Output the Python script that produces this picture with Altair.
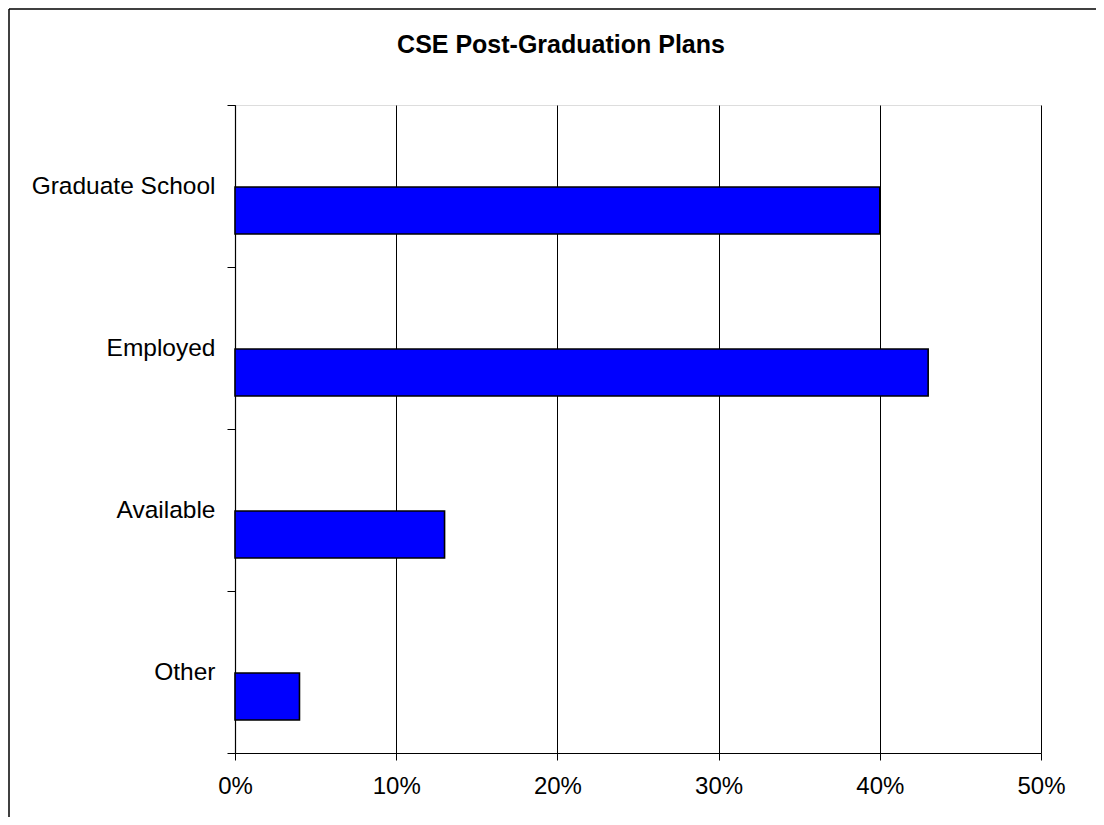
import altair as alt
import pandas as pd

title_text = "CSE Post-Graduation Plans"
categories = ["Graduate School", "Employed", "Available", "Other"]
shares = [0.40, 0.43, 0.13, 0.04]
x_ticks = [0.0, 0.1, 0.2, 0.3, 0.4, 0.5]

df = pd.DataFrame({"plan": categories, "share": shares})

FONT = "Liberation Sans"

bars = alt.Chart(df).mark_bar(
    color="#0000FF", stroke="black", strokeWidth=1.6, size=47, yOffset=24.5
).encode(
    x=alt.X(
        "share:Q",
        scale=alt.Scale(domain=[0, 0.5], nice=False),
        axis=alt.Axis(
            values=x_ticks, format=".0%", title=None, grid=True,
            gridColor="#000000", gridWidth=1, domainColor="#000000",
            domainWidth=1.2, tickColor="#000000", tickSize=7,
            labelFont=FONT, labelFontSize=24, labelColor="#000000",
            labelPadding=14, labelFlush=False,
        ),
    ),
    y=alt.Y(
        "plan:N",
        sort=categories,
        scale=alt.Scale(paddingInner=0, paddingOuter=0),
        axis=alt.Axis(
            title=None, tickBand="extent", grid=False, domainColor="#000000",
            domainWidth=1.2, tickColor="#000000", tickSize=8,
            labelFont=FONT, labelFontSize=24.5, labelColor="#000000",
            labelPadding=12, labelAlign="right", labelLimit=400,
        ),
    ),
)

frame_left = alt.Chart(alt.Data(values=[{}])).mark_rule(
    color="#000000", strokeWidth=1.5
).encode(x=alt.value(-226), y=alt.value(-96), y2=alt.value(760))

frame_top = alt.Chart(alt.Data(values=[{}])).mark_rule(
    color="#000000", strokeWidth=1.5
).encode(x=alt.value(-226), x2=alt.value(900), y=alt.value(-96))

title = alt.Chart(alt.Data(values=[{}])).mark_text(
    font=FONT, fontSize=25, fontWeight="bold", color="#000000",
    align="center", baseline="alphabetic",
).encode(x=alt.value(326), y=alt.value(-52), text=alt.value(title_text))

chart = alt.layer(bars, frame_left, frame_top, title).properties(
    width=806,
    height=648,
    autosize=alt.AutoSizeParams(type="none"),
    padding={"left": 227, "top": 97, "right": 55, "bottom": 64},
).configure_view(stroke="#808080", strokeWidth=1.2).configure(background="white")

chart.save("out.html", embed_options={"renderer": "svg", "actions": False})
